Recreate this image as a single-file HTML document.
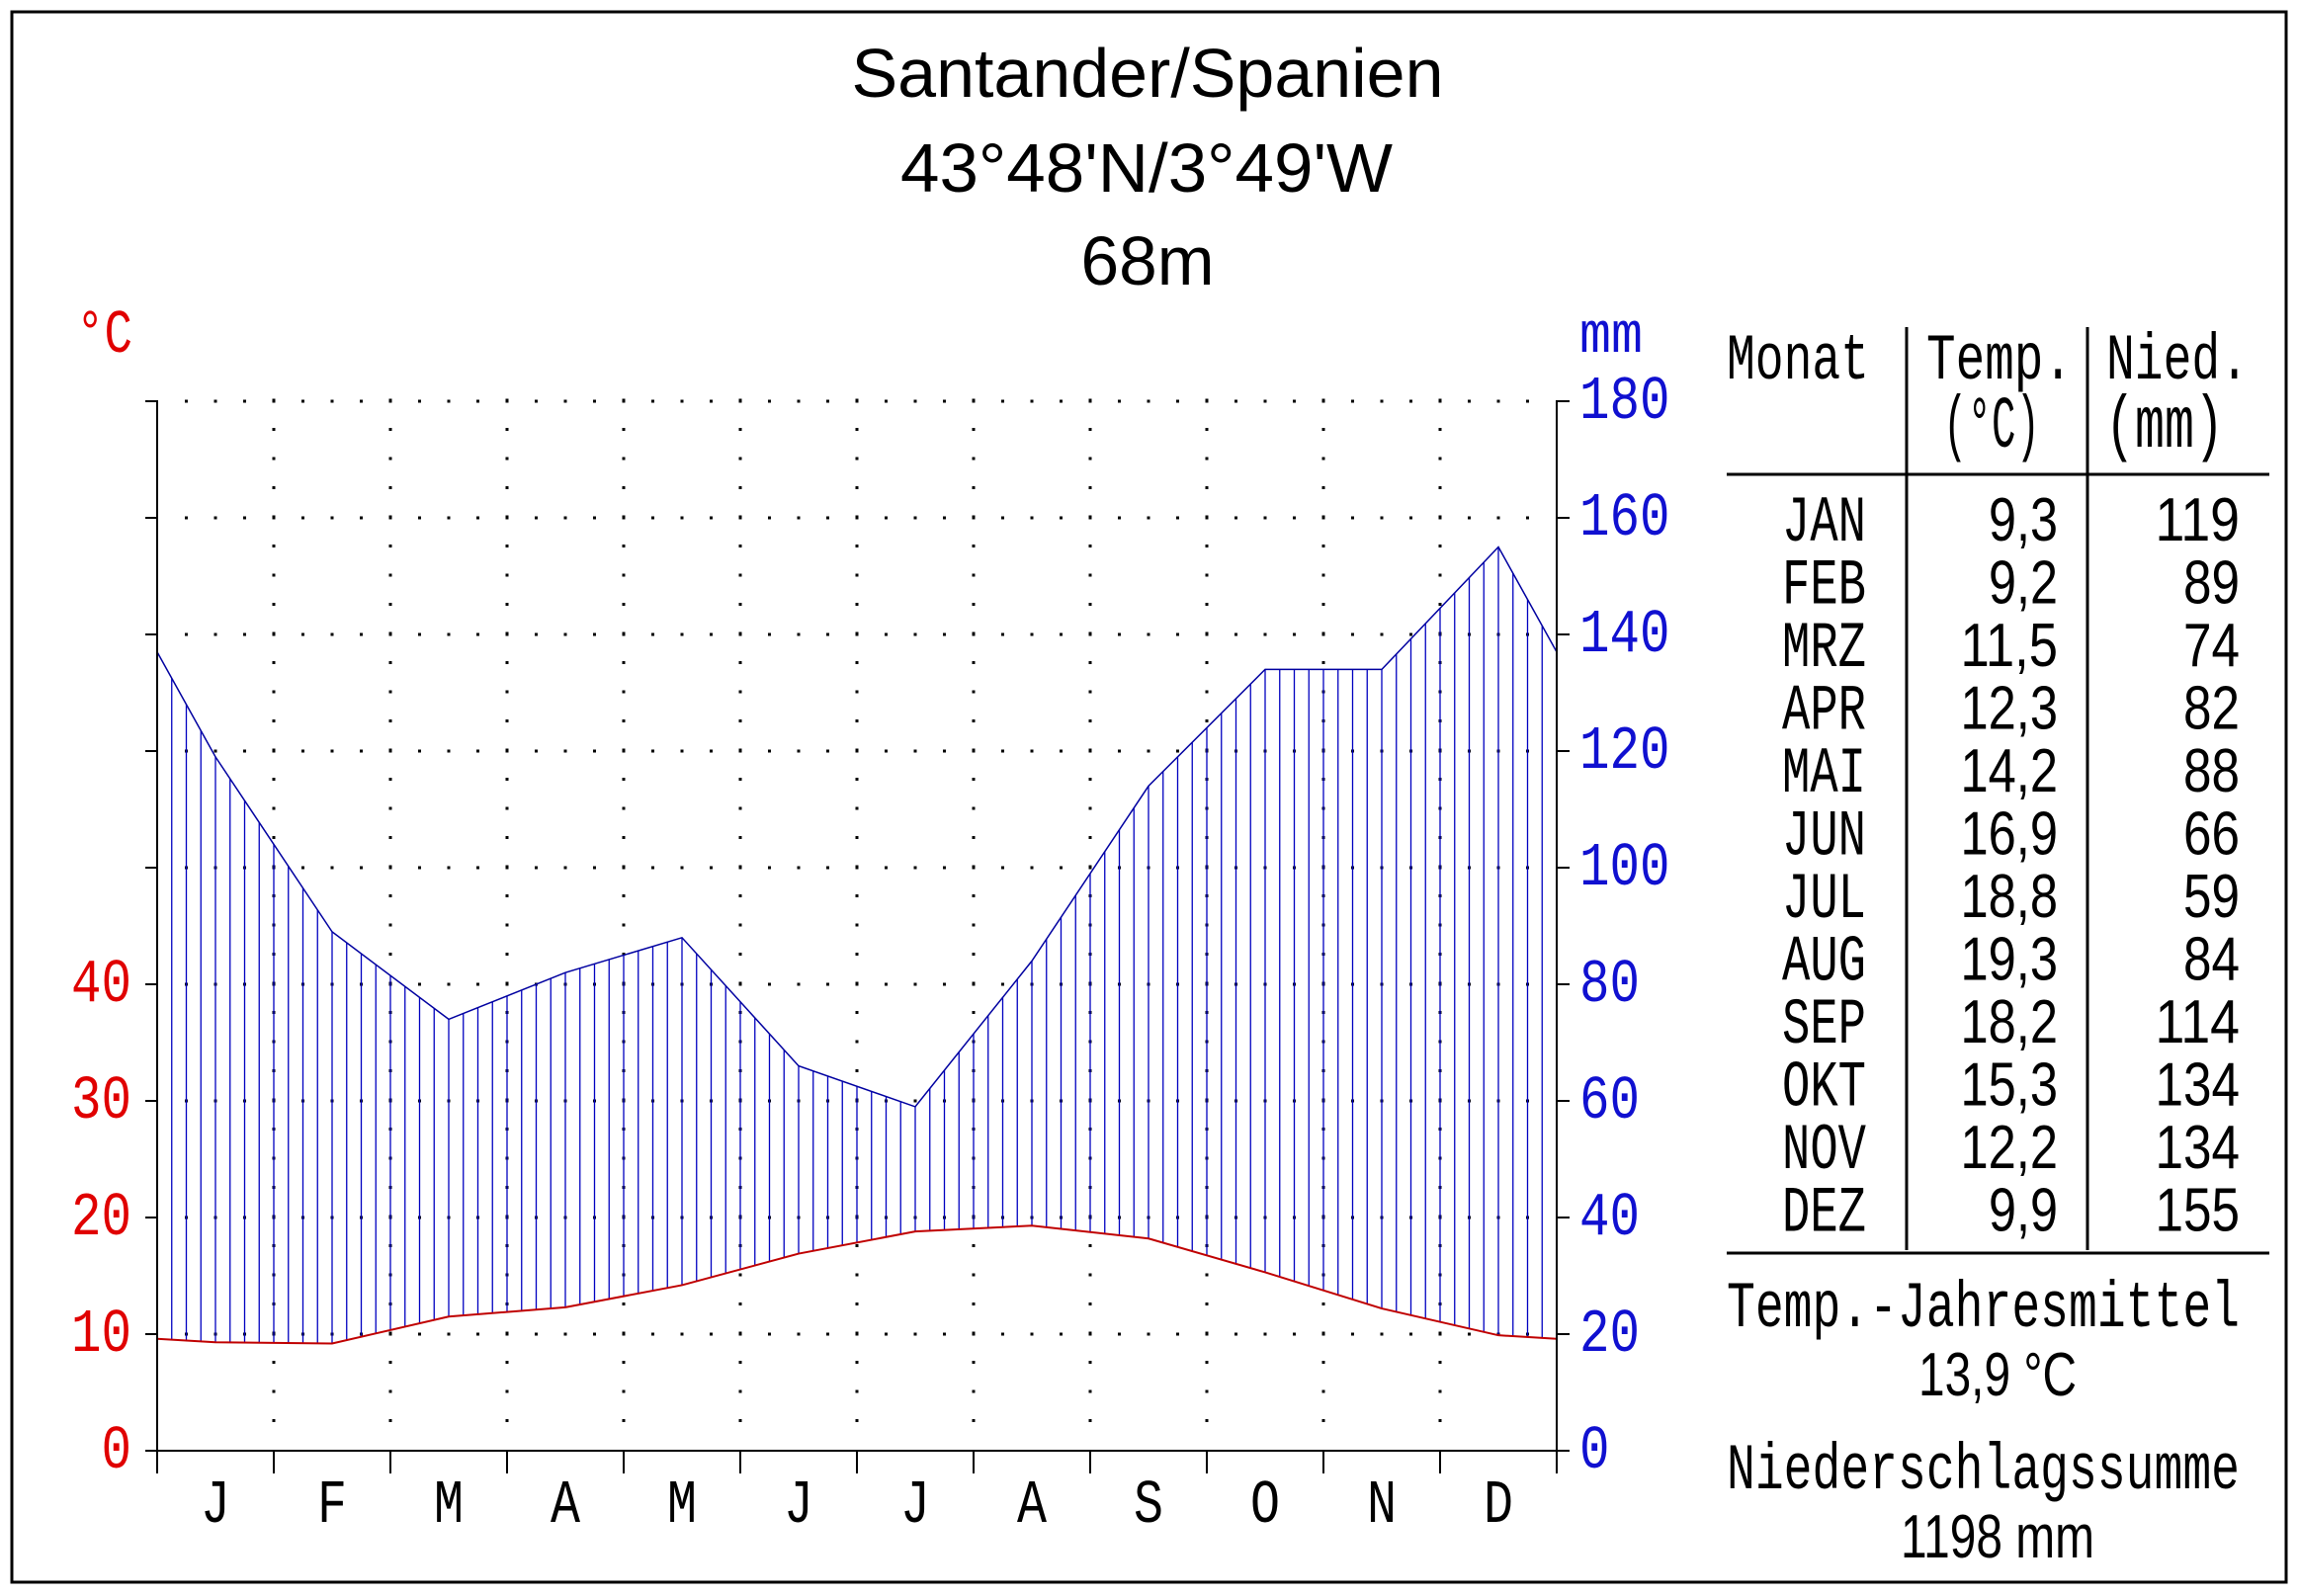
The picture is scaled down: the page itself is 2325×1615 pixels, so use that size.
<!DOCTYPE html>
<html><head><meta charset="utf-8"><style>
html,body{margin:0;padding:0;background:#fff}
svg{display:block}
.m{font-family:"Liberation Mono",monospace}
.s{font-family:"Liberation Sans",sans-serif}
</style></head><body>
<svg id="c" xmlns="http://www.w3.org/2000/svg" width="2325" height="1615" viewBox="0 0 2325 1615">
<rect x="12" y="12" width="2301" height="1589" fill="#fff" stroke="#000" stroke-width="3"/>
<g class="s" text-anchor="middle" font-size="70" fill="#000">
<text x="1161" y="98" textLength="599" lengthAdjust="spacingAndGlyphs">Santander/Spanien</text>
<text x="1160" y="194" textLength="498" lengthAdjust="spacingAndGlyphs">43°48'N/3°49'W</text>
<text x="1161" y="288" textLength="135" lengthAdjust="spacingAndGlyphs">68m</text>
</g>
<text class="m" x="77" y="356" font-size="62" fill="#e00000" textLength="57" lengthAdjust="spacingAndGlyphs">°C</text>
<text class="m" x="1598" y="356" font-size="58" fill="#1010d0" textLength="64" lengthAdjust="spacingAndGlyphs">mm</text>
<g id="grid"></g>
<g id="hatch" stroke="#0000c0" stroke-width="1.3"></g>
<polyline id="pl" fill="none" stroke="#0000a0" stroke-width="1.5"/>
<polyline id="tl" fill="none" stroke="#c00000" stroke-width="2"/>
<g id="axes" stroke="#000" stroke-width="2"></g>
<g id="labels"></g>
<g stroke="#000" stroke-width="3">
<line x1="1929" y1="331" x2="1929" y2="1265"/>
<line x1="2112" y1="331" x2="2112" y2="1265"/>
<line x1="1747" y1="480" x2="2296" y2="480"/>
<line x1="1747" y1="1268" x2="2296" y2="1268"/>
</g>
<g class="m" font-size="66" fill="#000">
<text x="1747" y="383" textLength="144" lengthAdjust="spacingAndGlyphs">Monat</text>
<text x="1949" y="383" textLength="148" lengthAdjust="spacingAndGlyphs">Temp.</text>
<text x="2131" y="383" textLength="144" lengthAdjust="spacingAndGlyphs">Nied.</text>
<text x="1966" y="452" font-size="74" textLength="98" lengthAdjust="spacingAndGlyphs">(°C)</text>
<text x="2130" y="452" font-size="74" textLength="120" lengthAdjust="spacingAndGlyphs">(mm)</text>
</g>
<g id="rows"></g>
<g class="m" font-size="66" fill="#000">
<text x="1747" y="1342" textLength="519" lengthAdjust="spacingAndGlyphs">Temp.-Jahresmittel</text>
<text x="1747" y="1506" textLength="519" lengthAdjust="spacingAndGlyphs">Niederschlagssumme</text>
</g>
<g class="s" font-size="62" fill="#000" text-anchor="middle">
<text x="2021" y="1412" textLength="160" lengthAdjust="spacingAndGlyphs">13,9 °C</text>
<text x="2021" y="1576" textLength="196" lengthAdjust="spacingAndGlyphs">1198 mm</text>
</g>
</svg>
<script>
(function(){
var NS="http://www.w3.org/2000/svg";
function el(p,n,a,t){var e=document.createElementNS(NS,n);for(var k in a)e.setAttribute(k,a[k]);if(t!==undefined)e.textContent=t;p.appendChild(e);return e;}
var P=[119,89,74,82,88,66,59,84,114,134,134,155];
var T=[9.3,9.2,11.5,12.3,14.2,16.9,18.8,19.3,18.2,15.3,12.2,9.9];
var X0=159,W=118,Y0=1468;
function my(v){return Y0-v*5.9;} function ty(t){return Y0-t*11.8;}
var px=[X0],pv=[(P[11]+P[0])/2],tv=[(T[11]+T[0])/2];
for(var i=0;i<12;i++){px.push(X0+(i+.5)*W);pv.push(P[i]);tv.push(T[i]);}
px.push(X0+12*W);pv.push((P[11]+P[0])/2);tv.push((T[11]+T[0])/2);
function interp(x,arr){for(var i=0;i<px.length-1;i++){if(x>=px[i]&&x<=px[i+1]){var f=(x-px[i])/(px[i+1]-px[i]);return arr[i]+f*(arr[i+1]-arr[i]);}}return arr[arr.length-1];}
var g=document.getElementById("grid");
for(var k=1;k<=9;k++){var y=Y0-118*k;for(var j=1;j<=47;j++){el(g,"rect",{x:X0+29.5*j-1.5,y:y-1.5,width:3,height:3,fill:"#000"});}}
for(var m=1;m<=11;m++){var x=X0+W*m;for(var y=405;y<1450;y+=29.5){el(g,"rect",{x:x-1.5,y:y-1.5,width:3,height:3,fill:"#000"});}}
var h=document.getElementById("hatch");
for(var k=1;k<96;k++){var x=X0+k*14.75;var a=my(interp(x,pv)),b=ty(interp(x,tv));if(b>a)el(h,"line",{x1:x,y1:a,x2:x,y2:b});}
el(h,"line",{x1:X0,y1:my(pv[0]),x2:X0,y2:ty(tv[0])});
el(h,"line",{x1:X0+12*W,y1:my(pv[0]),x2:X0+12*W,y2:ty(tv[0])});
var s1="",s2="";for(var i=0;i<px.length;i++){s1+=px[i]+","+my(pv[i])+" ";s2+=px[i]+","+ty(tv[i])+" ";}
document.getElementById("pl").setAttribute("points",s1);
document.getElementById("tl").setAttribute("points",s2);
var ax=document.getElementById("axes");
el(ax,"line",{x1:X0,y1:405,x2:X0,y2:Y0});
el(ax,"line",{x1:X0+12*W,y1:405,x2:X0+12*W,y2:Y0});
el(ax,"line",{x1:X0,y1:Y0,x2:X0+12*W,y2:Y0});
for(var k=0;k<=9;k++){var y=Y0-118*k;el(ax,"line",{x1:147,y1:y,x2:X0,y2:y});el(ax,"line",{x1:X0+12*W,y1:y,x2:1588,y2:y});}
for(var m=0;m<=12;m++){var x=X0+W*m;el(ax,"line",{x1:x,y1:Y0,x2:x,y2:1491});}
var lb=document.getElementById("labels");
for(var k=0;k<=4;k++){var t=String(k*10);el(lb,"text",{x:133,y:Y0-118*k+17,"text-anchor":"end","font-family":"Liberation Mono,monospace","font-size":"62",fill:"#e00000",textLength:t.length*30.5,lengthAdjust:"spacingAndGlyphs"},t);}
for(var k=0;k<=9;k++){var t=String(k*20);el(lb,"text",{x:1598,y:Y0-118*k+17,"font-family":"Liberation Mono,monospace","font-size":"62",fill:"#1010d0",textLength:t.length*30.5,lengthAdjust:"spacingAndGlyphs"},t);}
var ML="JFMAMJJASOND";
for(var m=0;m<12;m++){el(lb,"text",{x:X0+(m+.5)*W,y:1540,"text-anchor":"middle","font-family":"Liberation Mono,monospace","font-size":"62",fill:"#000",textLength:30,lengthAdjust:"spacingAndGlyphs"},ML[m]);}
var MN=["JAN","FEB","MRZ","APR","MAI","JUN","JUL","AUG","SEP","OKT","NOV","DEZ"];
var TS=["9,3","9,2","11,5","12,3","14,2","16,9","18,8","19,3","18,2","15,3","12,2","9,9"];
var r=document.getElementById("rows");
for(var i=0;i<12;i++){var y=525+63.5*i+22;
el(r,"text",{x:1888,y:y,"text-anchor":"end","font-family":"Liberation Mono,monospace","font-size":"66",fill:"#000",textLength:85,lengthAdjust:"spacingAndGlyphs"},MN[i]);
var t=TS[i];el(r,"text",{x:2082,y:y,"text-anchor":"end","font-family":"Liberation Sans,sans-serif","font-size":"62",fill:"#000",textLength:(t.length-1)*28.5+13,lengthAdjust:"spacingAndGlyphs"},t);
var p=String(P[i]);el(r,"text",{x:2266,y:y,"text-anchor":"end","font-family":"Liberation Sans,sans-serif","font-size":"62",fill:"#000",textLength:p.length*28.5,lengthAdjust:"spacingAndGlyphs"},p);}
})();
</script>
</body></html>
